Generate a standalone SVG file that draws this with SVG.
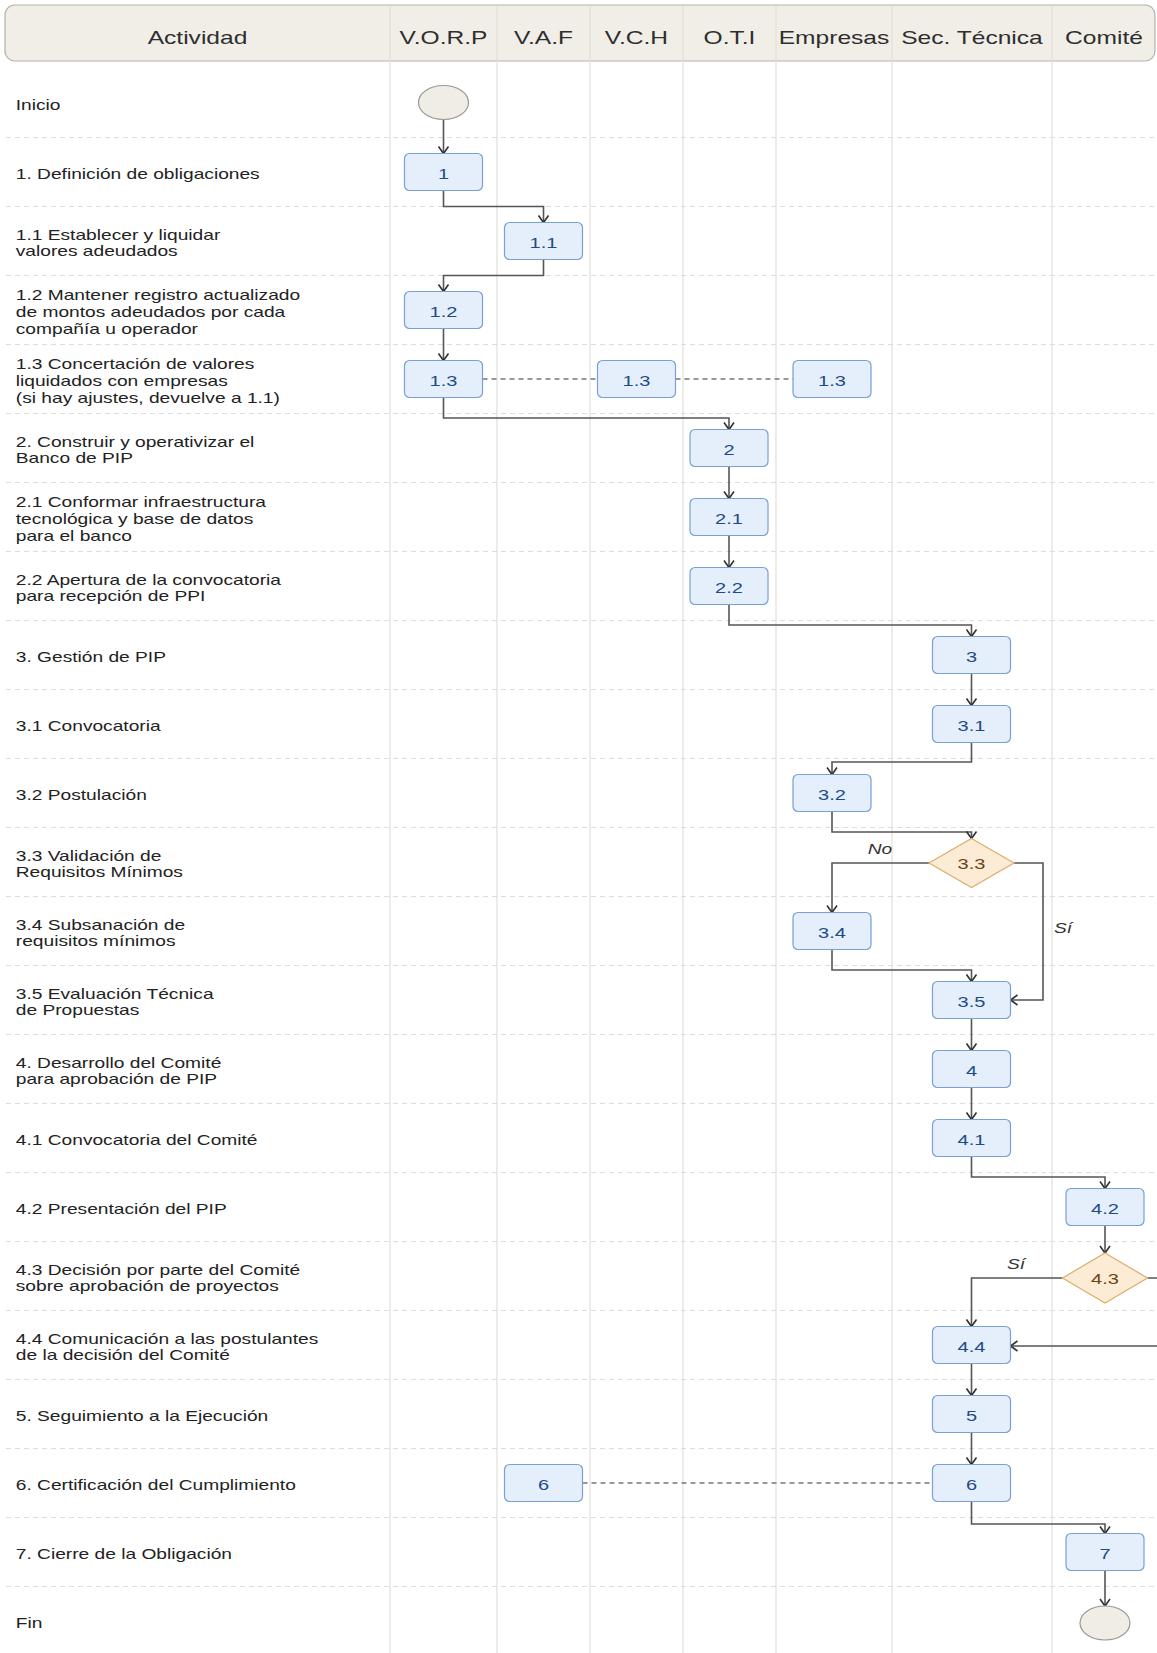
<svg xmlns="http://www.w3.org/2000/svg" width="1157" height="1653" viewBox="0 0 1157 1653">
<style>
.bg{fill:#ffffff}
.hdr{fill:#f1eee8;stroke:#b5b2ab;stroke-width:1.2}
.col{stroke:#e3e0d9;stroke-width:1.2}
.sep{stroke:#dcdcdc;stroke-width:1;stroke-dasharray:5,4}
.ht{font-family:"Liberation Sans",Arial,sans-serif;font-size:18.2px;fill:#2e2e2e;text-anchor:middle}
.lb{font-family:"Liberation Sans",Arial,sans-serif;font-size:14.2px;fill:#222}
.box{fill:#e4effb;stroke:#78a0d4;stroke-width:1.2}
.bt{font-family:"Liberation Sans",Arial,sans-serif;font-size:14.8px;fill:#1e4b86;text-anchor:middle}
.dia{fill:#fcebd5;stroke:#dcae6c;stroke-width:1.2}
.dt{font-family:"Liberation Sans",Arial,sans-serif;font-size:14.8px;fill:#6b4513;text-anchor:middle}
.ell{fill:#f0ede7;stroke:#9a9894;stroke-width:1.2}
.cn{fill:none;stroke:#555;stroke-width:1.6}
.dsh{fill:none;stroke:#777;stroke-width:1.3;stroke-dasharray:5,4}
.it{font-family:"Liberation Sans",Arial,sans-serif;font-size:14.2px;font-style:italic;fill:#333;text-anchor:middle}
</style>
<defs>
<marker id="arr" viewBox="-9 -6 11 12" refX="0" refY="0" markerWidth="11" markerHeight="12" markerUnits="userSpaceOnUse" orient="auto">
<path d="M-7,-5 L0,0 L-7,5" fill="none" stroke="#333" stroke-width="1.6"/>
</marker>
</defs>
<rect class="bg" x="0" y="0" width="1157" height="1653"/>

<g id="grid">
<rect class="hdr" x="5" y="5" width="1150" height="56" rx="10"/>
<g id="columns">
<line class="col" x1="390" y1="6" x2="390" y2="1653"/>
<line class="col" x1="497" y1="6" x2="497" y2="1653"/>
<line class="col" x1="590" y1="6" x2="590" y2="1653"/>
<line class="col" x1="683" y1="6" x2="683" y2="1653"/>
<line class="col" x1="776" y1="6" x2="776" y2="1653"/>
<line class="col" x1="892" y1="6" x2="892" y2="1653"/>
<line class="col" x1="1052" y1="6" x2="1052" y2="1653"/>
</g>
<g id="rows">
<line class="sep" x1="6" y1="137.5" x2="1157" y2="137.5"/>
<line class="sep" x1="6" y1="206.5" x2="1157" y2="206.5"/>
<line class="sep" x1="6" y1="275.5" x2="1157" y2="275.5"/>
<line class="sep" x1="6" y1="344.5" x2="1157" y2="344.5"/>
<line class="sep" x1="6" y1="413.5" x2="1157" y2="413.5"/>
<line class="sep" x1="6" y1="482.5" x2="1157" y2="482.5"/>
<line class="sep" x1="6" y1="551.5" x2="1157" y2="551.5"/>
<line class="sep" x1="6" y1="620.5" x2="1157" y2="620.5"/>
<line class="sep" x1="6" y1="689.5" x2="1157" y2="689.5"/>
<line class="sep" x1="6" y1="758.5" x2="1157" y2="758.5"/>
<line class="sep" x1="6" y1="827.5" x2="1157" y2="827.5"/>
<line class="sep" x1="6" y1="896.5" x2="1157" y2="896.5"/>
<line class="sep" x1="6" y1="965.5" x2="1157" y2="965.5"/>
<line class="sep" x1="6" y1="1034.5" x2="1157" y2="1034.5"/>
<line class="sep" x1="6" y1="1103.5" x2="1157" y2="1103.5"/>
<line class="sep" x1="6" y1="1172.5" x2="1157" y2="1172.5"/>
<line class="sep" x1="6" y1="1241.5" x2="1157" y2="1241.5"/>
<line class="sep" x1="6" y1="1310.5" x2="1157" y2="1310.5"/>
<line class="sep" x1="6" y1="1379.5" x2="1157" y2="1379.5"/>
<line class="sep" x1="6" y1="1448.5" x2="1157" y2="1448.5"/>
<line class="sep" x1="6" y1="1517.5" x2="1157" y2="1517.5"/>
<line class="sep" x1="6" y1="1586.5" x2="1157" y2="1586.5"/>
</g>
<g id="header-text" transform="scale(1.35,1)">
<text class="ht" x="146.3" y="44.5">Actividad</text>
<text class="ht" x="328.52" y="44.5">V.O.R.P</text>
<text class="ht" x="402.59" y="44.5">V.A.F</text>
<text class="ht" x="471.48" y="44.5">V.C.H</text>
<text class="ht" x="540.37" y="44.5">O.T.I</text>
<text class="ht" x="617.78" y="44.5">Empresas</text>
<text class="ht" x="720" y="44.5">Sec. Técnica</text>
<text class="ht" x="817.78" y="44.5">Comité</text>
</g>
<g id="activity-labels" transform="scale(1.35,1)">
<text class="lb" x="11.7" y="110">Inicio</text>
<text class="lb" x="11.7" y="179">1. Definición de obligaciones</text>
<text class="lb" x="11.7" y="239.6">1.1 Establecer y liquidar<tspan x="11.7" dy="16.8">valores adeudados</tspan></text>
<text class="lb" x="11.7" y="300.2">1.2 Mantener registro actualizado<tspan x="11.7" dy="16.8">de montos adeudados por cada</tspan><tspan x="11.7" dy="16.8">compañía u operador</tspan></text>
<text class="lb" x="11.7" y="369.2">1.3 Concertación de valores<tspan x="11.7" dy="16.8">liquidados con empresas</tspan><tspan x="11.7" dy="16.8">(si hay ajustes, devuelve a 1.1)</tspan></text>
<text class="lb" x="11.7" y="446.6">2. Construir y operativizar el<tspan x="11.7" dy="16.8">Banco de PIP</tspan></text>
<text class="lb" x="11.7" y="507.2">2.1 Conformar infraestructura<tspan x="11.7" dy="16.8">tecnológica y base de datos</tspan><tspan x="11.7" dy="16.8">para el banco</tspan></text>
<text class="lb" x="11.7" y="584.6">2.2 Apertura de la convocatoria<tspan x="11.7" dy="16.8">para recepción de PPI</tspan></text>
<text class="lb" x="11.7" y="662">3. Gestión de PIP</text>
<text class="lb" x="11.7" y="731">3.1 Convocatoria</text>
<text class="lb" x="11.7" y="800">3.2 Postulación</text>
<text class="lb" x="11.7" y="860.6">3.3 Validación de<tspan x="11.7" dy="16.8">Requisitos Mínimos</tspan></text>
<text class="lb" x="11.7" y="929.6">3.4 Subsanación de<tspan x="11.7" dy="16.8">requisitos mínimos</tspan></text>
<text class="lb" x="11.7" y="998.6">3.5 Evaluación Técnica<tspan x="11.7" dy="16.8">de Propuestas</tspan></text>
<text class="lb" x="11.7" y="1067.6">4. Desarrollo del Comité<tspan x="11.7" dy="16.8">para aprobación de PIP</tspan></text>
<text class="lb" x="11.7" y="1145">4.1 Convocatoria del Comité</text>
<text class="lb" x="11.7" y="1214">4.2 Presentación del PIP</text>
<text class="lb" x="11.7" y="1274.6">4.3 Decisión por parte del Comité<tspan x="11.7" dy="16.8">sobre aprobación de proyectos</tspan></text>
<text class="lb" x="11.7" y="1343.6">4.4 Comunicación a las postulantes<tspan x="11.7" dy="16.8">de la decisión del Comité</tspan></text>
<text class="lb" x="11.7" y="1421">5. Seguimiento a la Ejecución</text>
<text class="lb" x="11.7" y="1490">6. Certificación del Cumplimiento</text>
<text class="lb" x="11.7" y="1559">7. Cierre de la Obligación</text>
<text class="lb" x="11.7" y="1628">Fin</text>
</g>
</g>

<g id="connectors">
<path class="cn" d="M443.5,120 V153.5" marker-end="url(#arr)"/>
<path class="cn" d="M443.5,190.5 V206.5 H543.5 V222.5" marker-end="url(#arr)"/>
<path class="cn" d="M543.5,259.5 V275.5 H443.5 V291.5" marker-end="url(#arr)"/>
<path class="cn" d="M443.5,328.5 V360.5" marker-end="url(#arr)"/>
<path class="dsh" d="M482.5,379 H597.5"/>
<path class="dsh" d="M675.5,379 H793"/>
<path class="cn" d="M443.5,397.5 V418 H729 V429.5" marker-end="url(#arr)"/>
<path class="cn" d="M729,466.5 V498.5" marker-end="url(#arr)"/>
<path class="cn" d="M729,535.5 V567.5" marker-end="url(#arr)"/>
<path class="cn" d="M729,604.5 V625 H971.5 V636.5" marker-end="url(#arr)"/>
<path class="cn" d="M971.5,673.5 V705.5" marker-end="url(#arr)"/>
<path class="cn" d="M971.5,742.5 V762 H832 V774.5" marker-end="url(#arr)"/>
<path class="cn" d="M832,811.5 V832 H971.5 V838.5" marker-end="url(#arr)"/>
<path class="cn" d="M929,863 H832 V912.5" marker-end="url(#arr)"/>
<path class="cn" d="M1014,863 H1043 V1000 H1010.5" marker-end="url(#arr)"/>
<path class="cn" d="M832,949.5 V970 H971.5 V981.5" marker-end="url(#arr)"/>
<path class="cn" d="M971.5,1018.5 V1050.5" marker-end="url(#arr)"/>
<path class="cn" d="M971.5,1087.5 V1119.5" marker-end="url(#arr)"/>
<path class="cn" d="M971.5,1156.5 V1177 H1105 V1188.5" marker-end="url(#arr)"/>
<path class="cn" d="M1105,1225.5 V1253" marker-end="url(#arr)"/>
<path class="cn" d="M1062.5,1278 H971.5 V1326.5" marker-end="url(#arr)"/>
<path class="cn" d="M1147.5,1278 H1175 V1346 H1010.5" marker-end="url(#arr)"/>
<path class="cn" d="M971.5,1363.5 V1395.5" marker-end="url(#arr)"/>
<path class="cn" d="M971.5,1432.5 V1464.5" marker-end="url(#arr)"/>
<path class="dsh" d="M582.5,1483 H932.5"/>
<path class="cn" d="M971.5,1501.5 V1524 H1105 V1533.5" marker-end="url(#arr)"/>
<path class="cn" d="M1105,1570.5 V1606" marker-end="url(#arr)"/>
<g transform="scale(1.35,1)">
<text class="it" x="651.85" y="854">No</text>
<text class="it" x="787.41" y="933">Sí</text>
<text class="it" x="752.59" y="1269">Sí</text>
</g>
</g>

<g id="start"><ellipse class="ell" cx="443.5" cy="102.5" rx="25" ry="17"/></g>
<g id="n1"><rect class="box" x="404.5" y="153.5" width="78" height="37" rx="5"/><text class="bt" transform="scale(1.35,1)" x="328.52" y="179">1</text></g>
<g id="n1_1"><rect class="box" x="504.5" y="222.5" width="78" height="37" rx="5"/><text class="bt" transform="scale(1.35,1)" x="402.59" y="248">1.1</text></g>
<g id="n1_2"><rect class="box" x="404.5" y="291.5" width="78" height="37" rx="5"/><text class="bt" transform="scale(1.35,1)" x="328.52" y="317">1.2</text></g>
<g id="n1_3_vorp"><rect class="box" x="404.5" y="360.5" width="78" height="37" rx="5"/><text class="bt" transform="scale(1.35,1)" x="328.52" y="386">1.3</text></g>
<g id="n1_3_vch"><rect class="box" x="597.5" y="360.5" width="78" height="37" rx="5"/><text class="bt" transform="scale(1.35,1)" x="471.48" y="386">1.3</text></g>
<g id="n1_3_emp"><rect class="box" x="793" y="360.5" width="78" height="37" rx="5"/><text class="bt" transform="scale(1.35,1)" x="616.3" y="386">1.3</text></g>
<g id="n2"><rect class="box" x="690" y="429.5" width="78" height="37" rx="5"/><text class="bt" transform="scale(1.35,1)" x="540" y="455">2</text></g>
<g id="n2_1"><rect class="box" x="690" y="498.5" width="78" height="37" rx="5"/><text class="bt" transform="scale(1.35,1)" x="540" y="524">2.1</text></g>
<g id="n2_2"><rect class="box" x="690" y="567.5" width="78" height="37" rx="5"/><text class="bt" transform="scale(1.35,1)" x="540" y="593">2.2</text></g>
<g id="n3"><rect class="box" x="932.5" y="636.5" width="78" height="37" rx="5"/><text class="bt" transform="scale(1.35,1)" x="719.63" y="662">3</text></g>
<g id="n3_1"><rect class="box" x="932.5" y="705.5" width="78" height="37" rx="5"/><text class="bt" transform="scale(1.35,1)" x="719.63" y="731">3.1</text></g>
<g id="n3_2"><rect class="box" x="793" y="774.5" width="78" height="37" rx="5"/><text class="bt" transform="scale(1.35,1)" x="616.3" y="800">3.2</text></g>
<g id="d3_3"><path class="dia" d="M971.5,838.5 L1014,863 L971.5,887.5 L929,863 Z"/><text class="dt" transform="scale(1.35,1)" x="719.63" y="869.5">3.3</text></g>
<g id="n3_4"><rect class="box" x="793" y="912.5" width="78" height="37" rx="5"/><text class="bt" transform="scale(1.35,1)" x="616.3" y="938">3.4</text></g>
<g id="n3_5"><rect class="box" x="932.5" y="981.5" width="78" height="37" rx="5"/><text class="bt" transform="scale(1.35,1)" x="719.63" y="1007">3.5</text></g>
<g id="n4"><rect class="box" x="932.5" y="1050.5" width="78" height="37" rx="5"/><text class="bt" transform="scale(1.35,1)" x="719.63" y="1076">4</text></g>
<g id="n4_1"><rect class="box" x="932.5" y="1119.5" width="78" height="37" rx="5"/><text class="bt" transform="scale(1.35,1)" x="719.63" y="1145">4.1</text></g>
<g id="n4_2"><rect class="box" x="1066" y="1188.5" width="78" height="37" rx="5"/><text class="bt" transform="scale(1.35,1)" x="818.52" y="1214">4.2</text></g>
<g id="d4_3"><path class="dia" d="M1105,1253 L1147.5,1278 L1105,1303 L1062.5,1278 Z"/><text class="dt" transform="scale(1.35,1)" x="818.52" y="1284.5">4.3</text></g>
<g id="n4_4"><rect class="box" x="932.5" y="1326.5" width="78" height="37" rx="5"/><text class="bt" transform="scale(1.35,1)" x="719.63" y="1352">4.4</text></g>
<g id="n5"><rect class="box" x="932.5" y="1395.5" width="78" height="37" rx="5"/><text class="bt" transform="scale(1.35,1)" x="719.63" y="1421">5</text></g>
<g id="n6_vaf"><rect class="box" x="504.5" y="1464.5" width="78" height="37" rx="5"/><text class="bt" transform="scale(1.35,1)" x="402.59" y="1490">6</text></g>
<g id="n6_sec"><rect class="box" x="932.5" y="1464.5" width="78" height="37" rx="5"/><text class="bt" transform="scale(1.35,1)" x="719.63" y="1490">6</text></g>
<g id="n7"><rect class="box" x="1066" y="1533.5" width="78" height="37" rx="5"/><text class="bt" transform="scale(1.35,1)" x="818.52" y="1559">7</text></g>
<g id="end"><ellipse class="ell" cx="1105" cy="1623" rx="25" ry="17"/></g>
</svg>
